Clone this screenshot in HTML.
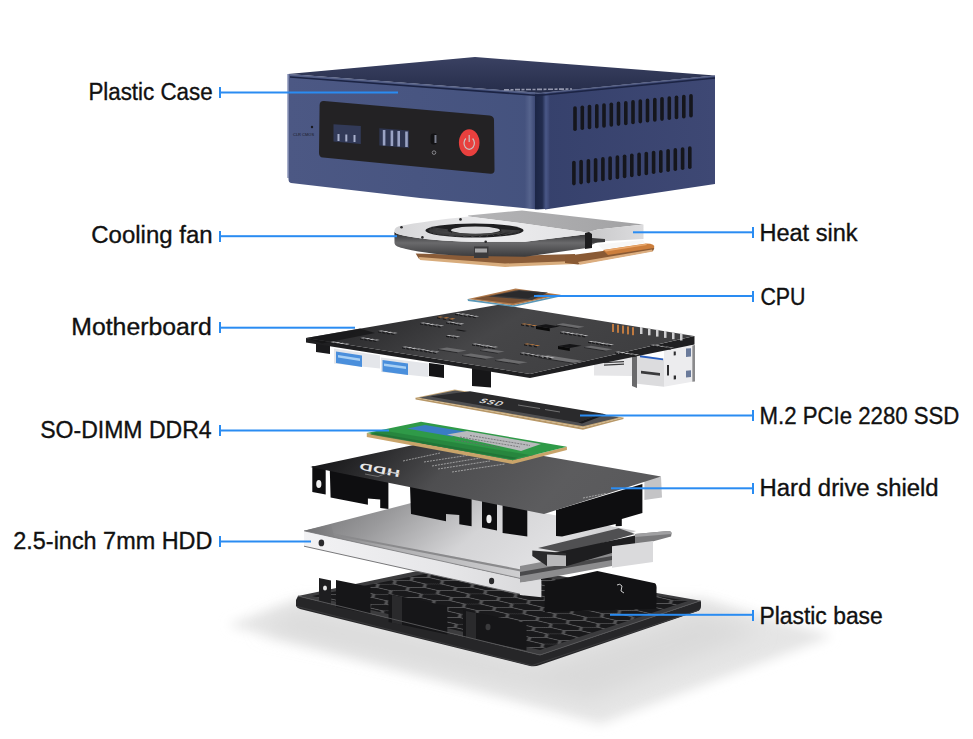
<!DOCTYPE html>
<html><head><meta charset="utf-8">
<style>
html,body{margin:0;padding:0;background:#fff;width:973px;height:739px;overflow:hidden}
svg{display:block}
text{font-family:"Liberation Sans",sans-serif;font-size:23.5px;fill:#111;stroke:#111;stroke-width:0.35px}
</style></head><body>
<svg width="973" height="739" viewBox="0 0 973 739">
<rect width="973" height="739" fill="#fff"/>
<defs>
<filter id="blur20" x="-50%" y="-50%" width="200%" height="200%"><feGaussianBlur stdDeviation="18"/></filter>
<filter id="blur1"><feGaussianBlur stdDeviation="0.6"/></filter>
<linearGradient id="caseTop" x1="0" y1="0" x2="0" y2="1"><stop offset="0" stop-color="#3a4162"/><stop offset="1" stop-color="#262d4a"/></linearGradient>
<linearGradient id="caseFront" x1="0" y1="0" x2="1" y2="0"><stop offset="0" stop-color="#4c5884"/><stop offset="1" stop-color="#44527e"/></linearGradient>
<linearGradient id="caseSide" x1="0" y1="0" x2="1" y2="0"><stop offset="0" stop-color="#36416c"/><stop offset="1" stop-color="#3e4874"/></linearGradient>
<linearGradient id="caseCorner" x1="0" y1="0" x2="1" y2="0"><stop offset="0" stop-color="#46537f"/><stop offset="0.5" stop-color="#56648e"/><stop offset="1" stop-color="#3c4874"/></linearGradient>
<linearGradient id="caseCorner2" x1="0" y1="0" x2="1" y2="0"><stop offset="0" stop-color="#1c2646"/><stop offset="0.5" stop-color="#222c4e"/><stop offset="0.75" stop-color="#4a5888"/><stop offset="1" stop-color="#3b4672"/></linearGradient>
<linearGradient id="fanSide" x1="0" y1="0" x2="0" y2="1"><stop offset="0" stop-color="#2a2a2c"/><stop offset="0.45" stop-color="#6a6a6c"/><stop offset="1" stop-color="#3a3a3c"/></linearGradient>
<linearGradient id="fanTop" x1="0" y1="0" x2="1" y2="0"><stop offset="0" stop-color="#d6d6d8"/><stop offset="0.5" stop-color="#ececee"/><stop offset="1" stop-color="#e2e2e4"/></linearGradient>
<linearGradient id="hsTop" x1="0" y1="0" x2="1" y2="0"><stop offset="0" stop-color="#b4b4b6"/><stop offset="1" stop-color="#a2a2a4"/></linearGradient>
<linearGradient id="hsFront" x1="0" y1="0" x2="1" y2="0"><stop offset="0" stop-color="#c8c8ca"/><stop offset="1" stop-color="#dcdcde"/></linearGradient>
<linearGradient id="mbTop" x1="0" y1="0" x2="1" y2="0.3"><stop offset="0" stop-color="#202022"/><stop offset="0.3" stop-color="#333335"/><stop offset="0.55" stop-color="#464648"/><stop offset="1" stop-color="#3e3e40"/></linearGradient>
<linearGradient id="shTop" x1="0" y1="0" x2="1" y2="0.2"><stop offset="0" stop-color="#0c0c0e"/><stop offset="0.22" stop-color="#2a2a2c"/><stop offset="0.45" stop-color="#4e4e50"/><stop offset="0.8" stop-color="#5c5c5e"/><stop offset="1" stop-color="#5a5a5c"/></linearGradient>
<linearGradient id="hddTop" x1="0" y1="0" x2="1" y2="0.3"><stop offset="0" stop-color="#6a6a6c"/><stop offset="0.3" stop-color="#9a9a9c"/><stop offset="0.6" stop-color="#d4d4d6"/><stop offset="0.85" stop-color="#e0e0e2"/><stop offset="1" stop-color="#c8c8ca"/></linearGradient>
<linearGradient id="hddFront" x1="0" y1="0" x2="1" y2="0"><stop offset="0" stop-color="#f2f2f4"/><stop offset="0.6" stop-color="#e6e6e8"/><stop offset="1" stop-color="#d8d8da"/></linearGradient>
<filter id="blur10" x="-30%" y="-30%" width="160%" height="160%"><feGaussianBlur stdDeviation="10"/></filter>
<pattern id="hex" patternUnits="userSpaceOnUse" width="19.5" height="11.3" patternTransform="matrix(2.22,0.51,1.52,-0.30,318,596)"><rect width="19.5" height="11.3" fill="#555557"/><g fill="#19191b"><polygon points="0.65,5.65 3.57,0.79 9.43,0.79 12.35,5.65 9.43,10.51 3.57,10.51"/><polygon points="10.40,0.00 13.32,-4.86 19.18,-4.86 22.10,0.00 19.18,4.86 13.32,4.86"/><polygon points="10.40,11.30 13.32,6.44 19.18,6.44 22.10,11.30 19.18,16.16 13.32,16.16"/><polygon points="-9.10,0.00 -6.18,-4.86 -0.32,-4.86 2.60,0.00 -0.32,4.86 -6.18,4.86"/><polygon points="-9.10,11.30 -6.18,6.44 -0.32,6.44 2.60,11.30 -0.32,16.16 -6.18,16.16"/></g></pattern>
<filter id="blur6" x="-30%" y="-30%" width="160%" height="160%"><feGaussianBlur stdDeviation="6"/></filter>
<linearGradient id="hddRim" x1="0" y1="0" x2="1" y2="0"><stop offset="0" stop-color="#707072"/><stop offset="0.4" stop-color="#b0b0b2"/><stop offset="1" stop-color="#d0d0d2"/></linearGradient>
</defs>
<g id="shadow">
<polygon points="228,625 300,598 702,598 832,636 600,724" fill="#e5e5e5" filter="url(#blur6)"/>
<polygon points="300,612 535,668 700,612 760,632 590,700 260,628" fill="#dadada" filter="url(#blur10)"/>
</g>
<g id="base">
<path d="M298,596 L296,600 L296,606 Q297,608 300,609 L530,666 Q535,667 540,665 L698,611 Q701,609.5 701,606 L701,602 L700.5,600.7 L540,655 Z" fill="#262628"/>
<path d="M298,596 L470,560 L700.5,600.7 L540,655 Z" fill="#3c3c3e"/>
<path d="M312,596 L470,565 L688,601 L540,650 Z" fill="url(#hex)"/>
<path d="M319,578 L331,580.5 L331,604 L319,601.5 Z" fill="#1e1e20"/>
<ellipse cx="325" cy="588" rx="2" ry="2.6" fill="#e8e8e8"/>
<path d="M336,580 L370.5,587 L370.5,614 L336,607 Z" fill="#161618"/>
<path d="M388.5,594 L447.3,606 L447.3,634.6 L388.5,622 Z" fill="#161618"/>
<path d="M392,595 L402,597 L402,625 L392,623 Z" fill="#2a2a2c"/>
<path d="M463,610 L526.5,623 L526.5,650.5 L463,637 Z" fill="#161618"/>
<path d="M466,611 L476,613 L476,640 L466,638 Z" fill="#2a2a2c"/>
<ellipse cx="488" cy="627" rx="2.5" ry="3.2" fill="#3a3a3c"/>
<path d="M544.7,582.5 L597.3,571 L655,583.3 Q657,585 656.5,590 L656.5,608.8 L544.7,612 Z" fill="#121214"/>
<path d="M617,585 q3,-2 5,1 l-1,5 l3,2" fill="none" stroke="#cfcfcf" stroke-width="1"/>
<path d="M298,596 L540,655 L700.5,600.7" fill="none" stroke="#555557" stroke-width="1"/>
<path d="M297,606.5 L532,665.5 L699,610" fill="none" stroke="#3a3a3c" stroke-width="1"/>
</g>
<g id="hdd">
<path d="M304,530.8 L526.2,579.7 L541,577 L541,594 L523.7,595 L304,546.2 Z" fill="url(#hddFront)"/>
<path d="M304,546.2 L523.7,595" stroke="#6a6a6c" stroke-width="0.9"/>
<path d="M304,530.8 L446,494 L636,531 L526.2,579.7 Z" fill="url(#hddTop)"/>
<path d="M304,530.8 L331,524.4 L333.5,533.4 L521,569.4 L526.2,579.7 Z" fill="url(#hddRim)"/>
<path d="M333.5,533.4 L521,569.4 L523,572 L334,535.5 Z" fill="#8a8a8c"/>
<path d="M304,530.8 L526.2,579.7" stroke="#7a7a7c" stroke-width="0.8"/>
<ellipse cx="321.4" cy="542.9" rx="2.8" ry="3.4" fill="#2a2a2c"/>
<ellipse cx="491.6" cy="581" rx="2.6" ry="3.2" fill="#2a2a2c"/>
<path d="M520,566 L612,549 L612,566 L520,583 Z" fill="#8c8c8e"/>
<path d="M520,572 L612,556 L612,560 L520,576 Z" fill="#4a4a4c"/>
<path d="M538,548 L618.7,528.2 L635,534 L566,553 Z" fill="#505052"/>
<path d="M547,554.5 L635,535.6 L635,546.3 L567,566 L547,566 Z" fill="#1e1e20"/>
<path d="M532.3,550.4 L566,553 L566,566 L547,566 L532.3,556 Z" fill="#2a2a2c"/>
<path d="M547,554.5 L566,555.5 L566,566 L547,566 Z" fill="#b8b8ba"/>
<path d="M635,534 L668,531 Q672,531 671.5,534 L671,536.5 L635,546.3 Z" fill="#7a7a7c"/>
<path d="M635,534 L668,531 Q672,531 671.5,534 L635,537 Z" fill="#a0a0a2"/>
<path d="M612,546.3 L653,541 L653,562 L612,567.7 Z" fill="#dadadc"/>
<path d="M520,582.5 L541.4,580 L541.4,597.3 L520,595 Z" fill="#dcdcde"/>
</g>
<g id="shield">
<path d="M312.3,466 L325.7,469 L325.7,494.5 L312.3,492 Z" fill="#0e0e10"/>
<ellipse cx="318.8" cy="484" rx="2.6" ry="4" fill="#f0f0f0"/>
<path d="M329.8,470 L388.4,482 L388.4,508.9 L380.2,508 L380.2,499.6 L367.9,498.6 L367.9,504.7 L330.6,497.6 Z" fill="#0e0e10"/>
<path d="M410,486 L471.6,498 L471.6,526.3 L459.3,524.2 L459.3,515 L446,514 L446,521.2 L411,514 Z" fill="#0e0e10"/>
<path d="M482,500 L497,503 L497,530.4 L482,527.5 Z" fill="#0e0e10"/>
<ellipse cx="489" cy="519" rx="2.6" ry="4.2" fill="#f0f0f0"/>
<path d="M502.6,504 L527.3,509 L527.3,536.6 L502.6,533 Z" fill="#0e0e10"/>
<path d="M556,510 L642.4,484 L642.4,513 L621.8,519 L621.8,526 L615.7,526.3 L615.7,524 L562,536.6 L556,536 Z" fill="#0e0e10"/>
<path d="M644.4,479 L661,476.5 L662,497.6 L644.4,500 Z" fill="#c4c4c6"/>
<path d="M310.3,467 L444,438.5 L661,476.5 L544,514 Z" fill="url(#shTop)"/>
<text x="0" y="0" text-anchor="middle" transform="translate(380,466.5) rotate(191) scale(1.15,0.62)" style="font-size:16px;font-weight:bold;fill:#e8e8e8;stroke:none;letter-spacing:0.5px">HDD</text>
<path d="M365,474 L378,476.5 L390,472 L400,474" fill="none" stroke="#9a9a9a" stroke-width="0.6"/>
<g stroke="#c8c8c8" stroke-width="0.9" opacity="0.75" stroke-dasharray="2,1">
<path d="M403,461 L440,453 M424,462 L470,455 M432,466 L480,458 M438,469 L490,461 M452,472 L505,464"/>
<path d="M583,498 L606,493.5"/>
</g>
</g>
<g id="ram">
<polygon points="366.8,433.1 366.8,437 512.6,464 566.9,450 566.9,446.7 512.6,460.2" fill="#c9a46a"/>
<polygon points="366.8,433.1 421,421.8 566.9,446.7 512.6,460.2" fill="#2f9a48"/>
<polygon points="370,434 512.6,459 530,455 380,430" fill="#237a38" opacity="0.6"/>
<polygon points="407,428.5 425,425 468,432 452,436.5" fill="#3a7cc4"/>
<polygon points="447,434.5 467,431 541,444 521,451" fill="#b9babd"/>
<g stroke="#6a6a6c" stroke-width="0.8" stroke-dasharray="2,1"><path d="M460,437 L520,447 M470,435.5 L530,445.5 M455,440 L500,447.5"/></g>
<polygon points="370,434.5 512.6,459.5 518,458 376,433" fill="#1f6e34" opacity="0.7"/>
</g>
<g id="ssd">
<polygon points="415.4,397.7 415.6,399.5 583,429.8 623.5,419 623.5,417.4 583,427.8" fill="#b89868"/>
<polygon points="415.4,397.7 454.7,389.6 623.5,417.4 583,427.8" fill="#c8aa7a"/>
<polygon points="419,397.7 455,390.6 619,417.4 583,426.3" fill="#505052"/>
<polygon points="430,396.5 470,391.3 602,413.5 578,422.5" fill="#2a2a2c"/>
<polygon points="578,422.5 602,413.5 606,414.5 582,423.5" fill="#1a1a1c"/>
<text x="0" y="0" transform="translate(478,402.5) rotate(9) skewX(-40) scale(1,0.7)" style="font-size:10px;font-weight:bold;fill:#d8d8d8;stroke:none;letter-spacing:1px">SSD</text>
<g stroke="#9a9a9a" stroke-width="0.8" opacity="0.8"><path d="M518,405 L540,408.5 M545,409.5 L560,412"/></g>
</g>
<g id="mb">
<path d="M316,343 L330,345 L330,354 L316,352 Z" fill="#1a1a1c"/>
<path d="M472,368 L491,370 L491,387.5 L472,386 Z" fill="#161618"/>
<path d="M334,348.5 L380,355.5 L380,368.5 L334,363.5 Z" fill="#e4e6ea"/>
<path d="M336,351.5 L362,355.5 L362,367 L336,363 Z" fill="#4a8fdc"/>
<path d="M338,355 L360,358.5 L360,361 L338,357.5 Z" fill="#a8d0f4"/>
<path d="M381,357.5 L428.5,363.5 L428.5,377 L381,372 Z" fill="#e4e6ea"/>
<path d="M382.5,360 L408,363.5 L408,375 L382.5,371.5 Z" fill="#4a8fdc"/>
<path d="M384,363.5 L406,366.5 L406,369 L384,366 Z" fill="#a8d0f4"/>
<path d="M429,363 L444,365 L444,378 L429,376 Z" fill="#141416"/>
<path d="M594,358 L632,356 L632,376 L594,375.5 Z" fill="#e6e6e8"/>
<path d="M604,362 L624,361 L624,362.3 L604,363.3 Z M604,364.5 L624,363.5 L624,364.8 L604,365.8 Z" fill="#3a3a3c"/>
<path d="M632,356 L637,354.7 L637,388 L632,386 Z" fill="#6a6a6c"/>
<path d="M637,354.7 L664,358.4 L664,386.8 L637,383.7 Z" fill="#dcdcde"/>
<path d="M640,355.3 L663,358.6 L663,360.3 L640,357.3 Z" fill="#2a5fc0"/>
<path d="M641,370.8 L660,373 L660,375.8 L641,373.6 Z" fill="#3a3a3c"/>
<path d="M664,347.3 L692.3,345.5 L692.3,381.8 L664,386.8 Z" fill="#ececee"/>
<path d="M673.7,351.6 L675.8,351.5 L675.8,355.3 L673.7,355.4 Z M673.7,375.6 L676,375.4 L676,379.2 L673.7,379.4 Z M667,365 L669,365 L669,375.5 L667,375.6 Z" fill="#2e2e30"/>
<path d="M686,348.6 L691,348.3 L691,356.6 L686,357 Z M686,370.8 L691,370.3 L691,377 L686,377.5 Z" fill="#6a7a9a"/>
<path d="M692.3,345.5 L695,345 L695,381.5 L692.3,381.8 Z" fill="#8a8a8c"/>
<path d="M306,338 L306,342.5 L530,378 L694.5,344.5 L694.5,336 L530,374 Z" fill="#1f1f21"/>
<path d="M306,338 L500,304.5 L694,336 L530,374 Z" fill="url(#mbTop)"/>
<path d="M306,338 L360,328.5 L375,333 L322,343.5 Z" fill="#121214" opacity="0.7"/>
<polygon points="438.0,349.0 457.7,352.2 457.7,353.2 438.0,350.0" fill="#2a2a2c"/><polygon points="438.0,349.0 457.7,352.2 466.6,350.6 446.9,347.5" fill="#6c6c6e"/>
<polygon points="462.0,355.0 485.7,358.8 485.7,359.8 462.0,356.0" fill="#2a2a2c"/><polygon points="462.0,355.0 485.7,358.8 494.6,357.2 470.9,353.5" fill="#6c6c6e"/>
<polygon points="495.0,360.0 518.7,363.8 518.7,364.8 495.0,361.0" fill="#2a2a2c"/><polygon points="495.0,360.0 518.7,363.8 527.6,362.2 503.9,358.5" fill="#6c6c6e"/>
<polygon points="480.0,350.0 497.8,352.8 497.8,353.8 480.0,351.0" fill="#2a2a2c"/><polygon points="480.0,350.0 497.8,352.8 504.7,351.6 486.9,348.8" fill="#6c6c6e"/>
<polygon points="538.0,357.0 573.5,362.7 573.5,363.7 538.0,358.0" fill="#2a2a2c"/><polygon points="538.0,357.0 573.5,362.7 583.4,361.0 547.9,355.3" fill="#747476"/>
<polygon points="584.0,347.0 605.7,350.5 605.7,351.5 584.0,348.0" fill="#2a2a2c"/><polygon points="584.0,347.0 605.7,350.5 612.6,349.3 590.9,345.8" fill="#6c6c6e"/>
<polygon points="556.0,324.5 577.7,328.0 577.7,329.0 556.0,325.5" fill="#2a2a2c"/><polygon points="556.0,324.5 577.7,328.0 584.6,326.8 562.9,323.3" fill="#6c6c6e"/>
<polygon points="558.0,346.0 569.8,347.9 569.8,350.9 558.0,349.0" fill="#0a0a0a"/><polygon points="558.0,346.0 569.8,347.9 581.7,345.8 569.8,343.9" fill="#141416"/>
<polygon points="536.0,326.0 549.8,328.2 549.8,331.2 536.0,329.0" fill="#0a0a0a"/><polygon points="536.0,326.0 549.8,328.2 559.7,326.5 545.9,324.3" fill="#141416"/>
<polygon points="455.0,330.0 463.9,331.4 466.8,330.9 458.0,329.5" fill="#141416"/>
<polygon points="437.0,317.0 440.0,317.5 440.0,319.0 437.0,318.5" fill="#1a1a1c"/><polygon points="437.0,317.0 440.0,317.5 443.4,316.9 440.4,316.4" fill="#d08440"/><polygon points="442.9,317.9 445.9,318.4 445.9,319.9 442.9,319.4" fill="#1a1a1c"/><polygon points="442.9,317.9 445.9,318.4 449.3,317.8 446.4,317.3" fill="#d08440"/><polygon points="448.8,318.9 451.8,319.4 451.8,320.9 448.8,320.4" fill="#1a1a1c"/><polygon points="448.8,318.9 451.8,319.4 455.3,318.8 452.3,318.3" fill="#d08440"/>
<polygon points="521.0,324.0 524.0,324.5 524.0,326.0 521.0,325.5" fill="#1a1a1c"/><polygon points="521.0,324.0 524.0,324.5 527.4,323.9 524.4,323.4" fill="#d08440"/><polygon points="525.9,324.8 528.9,325.3 528.9,326.8 525.9,326.3" fill="#1a1a1c"/><polygon points="525.9,324.8 528.9,325.3 532.3,324.7 529.4,324.2" fill="#d08440"/><polygon points="530.9,325.6 533.8,326.1 533.8,327.6 530.9,327.1" fill="#1a1a1c"/><polygon points="530.9,325.6 533.8,326.1 537.3,325.5 534.3,325.0" fill="#d08440"/>
<polygon points="524.0,344.0 527.0,344.5 527.0,346.0 524.0,345.5" fill="#1a1a1c"/><polygon points="524.0,344.0 527.0,344.5 530.4,343.9 527.4,343.4" fill="#d08440"/><polygon points="528.9,344.8 531.9,345.3 531.9,346.8 528.9,346.3" fill="#1a1a1c"/><polygon points="528.9,344.8 531.9,345.3 535.3,344.7 532.4,344.2" fill="#d08440"/><polygon points="533.9,345.6 536.8,346.1 536.8,347.6 533.9,347.1" fill="#1a1a1c"/><polygon points="533.9,345.6 536.8,346.1 540.3,345.5 537.3,345.0" fill="#d08440"/>
<polygon points="455.0,313.5 458.0,314.0 458.0,315.5 455.0,315.0" fill="#1a1a1c"/><polygon points="455.0,313.5 458.0,314.0 461.4,313.4 458.4,312.9" fill="#c4c4c6"/><polygon points="459.4,314.2 462.4,314.7 462.4,316.2 459.4,315.7" fill="#1a1a1c"/><polygon points="459.4,314.2 462.4,314.7 465.9,314.1 462.9,313.6" fill="#c4c4c6"/><polygon points="463.9,314.9 466.8,315.4 466.8,316.9 463.9,316.4" fill="#1a1a1c"/><polygon points="463.9,314.9 466.8,315.4 470.3,314.8 467.3,314.3" fill="#c4c4c6"/><polygon points="468.3,315.6 471.3,316.1 471.3,317.6 468.3,317.1" fill="#1a1a1c"/><polygon points="468.3,315.6 471.3,316.1 474.7,315.5 471.8,315.0" fill="#c4c4c6"/><polygon points="472.8,316.3 475.7,316.8 475.7,318.3 472.8,317.8" fill="#1a1a1c"/><polygon points="472.8,316.3 475.7,316.8 479.2,316.2 476.2,315.7" fill="#c4c4c6"/>
<polygon points="420.0,323.0 423.0,323.5 423.0,325.0 420.0,324.5" fill="#1a1a1c"/><polygon points="420.0,323.0 423.0,323.5 426.4,322.9 423.4,322.4" fill="#c4c4c6"/><polygon points="424.4,323.7 427.4,324.2 427.4,325.7 424.4,325.2" fill="#1a1a1c"/><polygon points="424.4,323.7 427.4,324.2 430.9,323.6 427.9,323.1" fill="#c4c4c6"/><polygon points="428.9,324.4 431.8,324.9 431.8,326.4 428.9,325.9" fill="#1a1a1c"/><polygon points="428.9,324.4 431.8,324.9 435.3,324.3 432.3,323.8" fill="#c4c4c6"/><polygon points="433.3,325.1 436.3,325.6 436.3,327.1 433.3,326.6" fill="#1a1a1c"/><polygon points="433.3,325.1 436.3,325.6 439.7,325.0 436.8,324.5" fill="#c4c4c6"/><polygon points="437.8,325.8 440.7,326.3 440.7,327.8 437.8,327.3" fill="#1a1a1c"/><polygon points="437.8,325.8 440.7,326.3 444.2,325.7 441.2,325.2" fill="#c4c4c6"/>
<polygon points="446.0,322.0 449.0,322.5 449.0,324.0 446.0,323.5" fill="#1a1a1c"/><polygon points="446.0,322.0 449.0,322.5 452.4,321.9 449.4,321.4" fill="#c4c4c6"/><polygon points="449.9,322.6 452.9,323.1 452.9,324.6 449.9,324.1" fill="#1a1a1c"/><polygon points="449.9,322.6 452.9,323.1 456.4,322.5 453.4,322.0" fill="#c4c4c6"/><polygon points="453.9,323.3 456.9,323.7 456.9,325.2 453.9,324.8" fill="#1a1a1c"/><polygon points="453.9,323.3 456.9,323.7 460.3,323.1 457.3,322.7" fill="#c4c4c6"/><polygon points="457.8,323.9 460.8,324.4 460.8,325.9 457.8,325.4" fill="#1a1a1c"/><polygon points="457.8,323.9 460.8,324.4 464.3,323.8 461.3,323.3" fill="#c4c4c6"/>
<polygon points="446.0,335.5 449.0,336.0 449.0,337.5 446.0,337.0" fill="#1a1a1c"/><polygon points="446.0,335.5 449.0,336.0 452.4,335.4 449.4,334.9" fill="#c4c4c6"/><polygon points="449.9,336.1 452.9,336.6 452.9,338.1 449.9,337.6" fill="#1a1a1c"/><polygon points="449.9,336.1 452.9,336.6 456.4,336.0 453.4,335.5" fill="#c4c4c6"/><polygon points="453.9,336.8 456.9,337.2 456.9,338.7 453.9,338.3" fill="#1a1a1c"/><polygon points="453.9,336.8 456.9,337.2 460.3,336.6 457.3,336.2" fill="#c4c4c6"/>
<polygon points="472.0,344.0 475.0,344.5 475.0,346.0 472.0,345.5" fill="#1a1a1c"/><polygon points="472.0,344.0 475.0,344.5 478.4,343.9 475.4,343.4" fill="#c4c4c6"/><polygon points="475.9,344.6 478.9,345.1 478.9,346.6 475.9,346.1" fill="#1a1a1c"/><polygon points="475.9,344.6 478.9,345.1 482.4,344.5 479.4,344.0" fill="#c4c4c6"/><polygon points="479.9,345.3 482.9,345.7 482.9,347.2 479.9,346.8" fill="#1a1a1c"/><polygon points="479.9,345.3 482.9,345.7 486.3,345.1 483.3,344.7" fill="#c4c4c6"/><polygon points="483.8,345.9 486.8,346.4 486.8,347.9 483.8,347.4" fill="#1a1a1c"/><polygon points="483.8,345.9 486.8,346.4 490.3,345.8 487.3,345.3" fill="#c4c4c6"/><polygon points="487.8,346.5 490.8,347.0 490.8,348.5 487.8,348.0" fill="#1a1a1c"/><polygon points="487.8,346.5 490.8,347.0 494.2,346.4 491.2,345.9" fill="#c4c4c6"/><polygon points="491.7,347.2 494.7,347.6 494.7,349.1 491.7,348.7" fill="#1a1a1c"/><polygon points="491.7,347.2 494.7,347.6 498.1,347.0 495.2,346.6" fill="#c4c4c6"/>
<polygon points="402.0,347.0 405.0,347.5 405.0,349.0 402.0,348.5" fill="#1a1a1c"/><polygon points="402.0,347.0 405.0,347.5 408.4,346.9 405.4,346.4" fill="#c4c4c6"/><polygon points="406.4,347.7 409.4,348.2 409.4,349.7 406.4,349.2" fill="#1a1a1c"/><polygon points="406.4,347.7 409.4,348.2 412.9,347.6 409.9,347.1" fill="#c4c4c6"/><polygon points="410.9,348.4 413.8,348.9 413.8,350.4 410.9,349.9" fill="#1a1a1c"/><polygon points="410.9,348.4 413.8,348.9 417.3,348.3 414.3,347.8" fill="#c4c4c6"/><polygon points="415.3,349.1 418.3,349.6 418.3,351.1 415.3,350.6" fill="#1a1a1c"/><polygon points="415.3,349.1 418.3,349.6 421.7,349.0 418.8,348.5" fill="#c4c4c6"/><polygon points="419.8,349.8 422.7,350.3 422.7,351.8 419.8,351.3" fill="#1a1a1c"/><polygon points="419.8,349.8 422.7,350.3 426.2,349.7 423.2,349.2" fill="#c4c4c6"/><polygon points="424.2,350.6 427.2,351.0 427.2,352.5 424.2,352.1" fill="#1a1a1c"/><polygon points="424.2,350.6 427.2,351.0 430.6,350.4 427.7,350.0" fill="#c4c4c6"/><polygon points="428.6,351.3 431.6,351.7 431.6,353.2 428.6,352.8" fill="#1a1a1c"/><polygon points="428.6,351.3 431.6,351.7 435.1,351.1 432.1,350.7" fill="#c4c4c6"/><polygon points="433.1,352.0 436.1,352.5 436.1,354.0 433.1,353.5" fill="#1a1a1c"/><polygon points="433.1,352.0 436.1,352.5 439.5,351.8 436.5,351.4" fill="#c4c4c6"/>
<polygon points="378.0,331.0 381.0,331.5 381.0,333.0 378.0,332.5" fill="#1a1a1c"/><polygon points="378.0,331.0 381.0,331.5 384.4,330.9 381.4,330.4" fill="#c4c4c6"/><polygon points="382.4,331.7 385.4,332.2 385.4,333.7 382.4,333.2" fill="#1a1a1c"/><polygon points="382.4,331.7 385.4,332.2 388.9,331.6 385.9,331.1" fill="#c4c4c6"/><polygon points="386.9,332.4 389.8,332.9 389.8,334.4 386.9,333.9" fill="#1a1a1c"/><polygon points="386.9,332.4 389.8,332.9 393.3,332.3 390.3,331.8" fill="#c4c4c6"/><polygon points="391.3,333.1 394.3,333.6 394.3,335.1 391.3,334.6" fill="#1a1a1c"/><polygon points="391.3,333.1 394.3,333.6 397.7,333.0 394.8,332.5" fill="#c4c4c6"/>
<polygon points="560.0,332.0 563.0,332.5 563.0,334.0 560.0,333.5" fill="#1a1a1c"/><polygon points="560.0,332.0 563.0,332.5 566.4,331.9 563.4,331.4" fill="#c4c4c6"/><polygon points="564.4,332.7 567.4,333.2 567.4,334.7 564.4,334.2" fill="#1a1a1c"/><polygon points="564.4,332.7 567.4,333.2 570.9,332.6 567.9,332.1" fill="#c4c4c6"/><polygon points="568.9,333.4 571.8,333.9 571.8,335.4 568.9,334.9" fill="#1a1a1c"/><polygon points="568.9,333.4 571.8,333.9 575.3,333.3 572.3,332.8" fill="#c4c4c6"/><polygon points="573.3,334.1 576.3,334.6 576.3,336.1 573.3,335.6" fill="#1a1a1c"/><polygon points="573.3,334.1 576.3,334.6 579.7,334.0 576.8,333.5" fill="#c4c4c6"/><polygon points="577.8,334.8 580.7,335.3 580.7,336.8 577.8,336.3" fill="#1a1a1c"/><polygon points="577.8,334.8 580.7,335.3 584.2,334.7 581.2,334.2" fill="#c4c4c6"/><polygon points="582.2,335.6 585.2,336.0 585.2,337.5 582.2,337.1" fill="#1a1a1c"/><polygon points="582.2,335.6 585.2,336.0 588.6,335.4 585.7,335.0" fill="#c4c4c6"/>
<polygon points="588.0,341.5 591.0,342.0 591.0,343.5 588.0,343.0" fill="#1a1a1c"/><polygon points="588.0,341.5 591.0,342.0 594.4,341.4 591.4,340.9" fill="#c4c4c6"/><polygon points="591.9,342.1 594.9,342.6 594.9,344.1 591.9,343.6" fill="#1a1a1c"/><polygon points="591.9,342.1 594.9,342.6 598.4,342.0 595.4,341.5" fill="#c4c4c6"/><polygon points="595.9,342.8 598.9,343.2 598.9,344.7 595.9,344.3" fill="#1a1a1c"/><polygon points="595.9,342.8 598.9,343.2 602.3,342.6 599.3,342.2" fill="#c4c4c6"/><polygon points="599.8,343.4 602.8,343.9 602.8,345.4 599.8,344.9" fill="#1a1a1c"/><polygon points="599.8,343.4 602.8,343.9 606.3,343.3 603.3,342.8" fill="#c4c4c6"/><polygon points="603.8,344.0 606.8,344.5 606.8,346.0 603.8,345.5" fill="#1a1a1c"/><polygon points="603.8,344.0 606.8,344.5 610.2,343.9 607.2,343.4" fill="#c4c4c6"/><polygon points="607.7,344.7 610.7,345.1 610.7,346.6 607.7,346.2" fill="#1a1a1c"/><polygon points="607.7,344.7 610.7,345.1 614.1,344.5 611.2,344.1" fill="#c4c4c6"/>
<polygon points="520.0,353.0 523.0,353.5 523.0,355.0 520.0,354.5" fill="#1a1a1c"/><polygon points="520.0,353.0 523.0,353.5 526.4,352.9 523.4,352.4" fill="#c4c4c6"/><polygon points="524.7,353.8 527.7,354.2 527.7,355.7 524.7,355.3" fill="#1a1a1c"/><polygon points="524.7,353.8 527.7,354.2 531.1,353.6 528.2,353.2" fill="#c4c4c6"/><polygon points="529.5,354.5 532.4,355.0 532.4,356.5 529.5,356.0" fill="#1a1a1c"/><polygon points="529.5,354.5 532.4,355.0 535.9,354.4 532.9,353.9" fill="#c4c4c6"/><polygon points="534.2,355.3 537.2,355.7 537.2,357.2 534.2,356.8" fill="#1a1a1c"/><polygon points="534.2,355.3 537.2,355.7 540.6,355.1 537.7,354.7" fill="#c4c4c6"/><polygon points="539.0,356.0 541.9,356.5 541.9,358.0 539.0,357.5" fill="#1a1a1c"/><polygon points="539.0,356.0 541.9,356.5 545.4,355.9 542.4,355.4" fill="#c4c4c6"/><polygon points="543.7,356.8 546.6,357.3 546.6,358.8 543.7,358.3" fill="#1a1a1c"/><polygon points="543.7,356.8 546.6,357.3 550.1,356.7 547.1,356.2" fill="#c4c4c6"/><polygon points="548.4,357.6 551.4,358.0 551.4,359.5 548.4,359.1" fill="#1a1a1c"/><polygon points="548.4,357.6 551.4,358.0 554.8,357.4 551.9,356.9" fill="#c4c4c6"/>
<polygon points="360.0,338.0 363.0,338.5 363.0,340.0 360.0,339.5" fill="#1a1a1c"/><polygon points="360.0,338.0 363.0,338.5 366.4,337.9 363.4,337.4" fill="#c4c4c6"/><polygon points="364.4,338.7 367.4,339.2 367.4,340.7 364.4,340.2" fill="#1a1a1c"/><polygon points="364.4,338.7 367.4,339.2 370.9,338.6 367.9,338.1" fill="#c4c4c6"/><polygon points="368.9,339.4 371.8,339.9 371.8,341.4 368.9,340.9" fill="#1a1a1c"/><polygon points="368.9,339.4 371.8,339.9 375.3,339.3 372.3,338.8" fill="#c4c4c6"/><polygon points="373.3,340.1 376.3,340.6 376.3,342.1 373.3,341.6" fill="#1a1a1c"/><polygon points="373.3,340.1 376.3,340.6 379.7,340.0 376.8,339.5" fill="#c4c4c6"/>
<polygon points="330.0,342.0 333.0,342.5 333.0,344.0 330.0,343.5" fill="#1a1a1c"/><polygon points="330.0,342.0 333.0,342.5 336.4,341.9 333.4,341.4" fill="#c4c4c6"/><polygon points="334.4,342.7 337.4,343.2 337.4,344.7 334.4,344.2" fill="#1a1a1c"/><polygon points="334.4,342.7 337.4,343.2 340.9,342.6 337.9,342.1" fill="#c4c4c6"/><polygon points="338.9,343.4 341.8,343.9 341.8,345.4 338.9,344.9" fill="#1a1a1c"/><polygon points="338.9,343.4 341.8,343.9 345.3,343.3 342.3,342.8" fill="#c4c4c6"/><polygon points="343.3,344.1 346.3,344.6 346.3,346.1 343.3,345.6" fill="#1a1a1c"/><polygon points="343.3,344.1 346.3,344.6 349.7,344.0 346.8,343.5" fill="#c4c4c6"/>
<polygon points="615.0,352.0 618.0,352.5 618.0,354.0 615.0,353.5" fill="#1a1a1c"/><polygon points="615.0,352.0 618.0,352.5 621.4,351.9 618.4,351.4" fill="#c4c4c6"/><polygon points="619.4,352.7 622.4,353.2 622.4,354.7 619.4,354.2" fill="#1a1a1c"/><polygon points="619.4,352.7 622.4,353.2 625.9,352.6 622.9,352.1" fill="#c4c4c6"/><polygon points="623.9,353.4 626.8,353.9 626.8,355.4 623.9,354.9" fill="#1a1a1c"/><polygon points="623.9,353.4 626.8,353.9 630.3,353.3 627.3,352.8" fill="#c4c4c6"/><polygon points="628.3,354.1 631.3,354.6 631.3,356.1 628.3,355.6" fill="#1a1a1c"/><polygon points="628.3,354.1 631.3,354.6 634.7,354.0 631.8,353.5" fill="#c4c4c6"/><polygon points="632.8,354.8 635.7,355.3 635.7,356.8 632.8,356.3" fill="#1a1a1c"/><polygon points="632.8,354.8 635.7,355.3 639.2,354.7 636.2,354.2" fill="#c4c4c6"/>
<polygon points="650.0,345.0 653.0,345.5 653.0,347.0 650.0,346.5" fill="#1a1a1c"/><polygon points="650.0,345.0 653.0,345.5 656.4,344.9 653.4,344.4" fill="#9a9a9c"/><polygon points="654.4,345.7 657.4,346.2 657.4,347.7 654.4,347.2" fill="#1a1a1c"/><polygon points="654.4,345.7 657.4,346.2 660.9,345.6 657.9,345.1" fill="#9a9a9c"/><polygon points="658.9,346.4 661.8,346.9 661.8,348.4 658.9,347.9" fill="#1a1a1c"/><polygon points="658.9,346.4 661.8,346.9 665.3,346.3 662.3,345.8" fill="#9a9a9c"/><polygon points="663.3,347.1 666.3,347.6 666.3,349.1 663.3,348.6" fill="#1a1a1c"/><polygon points="663.3,347.1 666.3,347.6 669.7,347.0 666.8,346.5" fill="#9a9a9c"/><polygon points="667.8,347.8 670.7,348.3 670.7,349.8 667.8,349.3" fill="#1a1a1c"/><polygon points="667.8,347.8 670.7,348.3 674.2,347.7 671.2,347.2" fill="#9a9a9c"/>
<rect x="612" y="324.0" width="2" height="8" fill="#c07a40"/>
<rect x="617" y="324.8" width="2" height="8" fill="#c07a40"/>
<rect x="622" y="325.6" width="2" height="8" fill="#c07a40"/>
<rect x="627" y="326.4" width="2" height="8" fill="#c07a40"/>
<rect x="632" y="327.2" width="2" height="8" fill="#c07a40"/>
<rect x="640" y="327.0" width="2.5" height="7" fill="#cfcfd1"/>
<rect x="648" y="328.3" width="2.5" height="7" fill="#cfcfd1"/>
<rect x="656" y="329.6" width="2.5" height="7" fill="#cfcfd1"/>
<rect x="664" y="330.9" width="2.5" height="7" fill="#cfcfd1"/>
<rect x="672" y="332.2" width="2.5" height="7" fill="#cfcfd1"/>
<rect x="680" y="333.5" width="2.5" height="7" fill="#cfcfd1"/>
</g>
<g id="cpu">
<polygon points="467.5,299 468,301 513,307 561.5,296.2 560.5,294.8 513,305.3" fill="#5a98b8"/>
<polygon points="468,299 515.5,288.6 560.5,294.8 513,305.3" fill="#b07a4c"/>
<polygon points="474,298.8 515,290.2 554,295 513,303.6" fill="#7a5234"/>
<polygon points="488,296.5 519,290 548,292.5 532,300" fill="#3a3a3c"/>
<polygon points="494,295.5 519,291 540,293 528,298.5" fill="#2a2a2c"/>
</g>
<g id="fan">
<path d="M415.7,253.6 L505,256 L575,254 L575,262.5 L505,265.5 L418.7,258.5 Z" fill="#8a5c38"/>
<path d="M418.7,257 L505,263.5 L575,261 L575,264 L505,267 L420,260 Z" fill="#d8ac7c"/>
<path d="M565,256 L648,245 Q657,245.5 653,251 L578,264.5 L565,263 Z" fill="#8a5a34"/>
<path d="M578,262 L652,249.5 L653,251.5 L580,264.8 Z" fill="#dcae80"/>
<path d="M598,244.5 L643,240 L645,243 L603,249.5 Z" fill="#f7f7f7"/>
<path d="M603,250 L646,243.5 Q656,243.5 654,248 L608,255 Z" fill="#cc7e3c"/>
<path d="M604,250 L646,243.8 L647,245 L606,251.5 Z" fill="#eaa86c"/>
<path d="M394.4,231.5 C395,233.5 399,234.5 406,236 C420,239 445,241.2 471.3,241.7 L525,241.7 L584.7,234.5 L597.7,232 L597.7,242 L584.7,248.2 L525,256.8 L471.3,256 C445,255.5 420,252.5 406,249 C398,247 395,246 394.5,243 Z" fill="url(#fanSide)"/>
<path d="M468,215.5 L522,210.5 L643.5,224.5 L597.7,229.5 L587,232.5 L520,223 L468.5,216.5 Z" fill="url(#hsTop)"/>
<path d="M587,232.5 L597.7,229.5 L643.5,224.5 L643.5,239 L597.7,241.5 L587,243 Z" fill="url(#hsFront)"/>
<path d="M394.4,231.5 C394.5,228 397,226.5 401,225.8 C415,223 440,219.5 468.5,216.5 L520,223 L587,232.5 L584.7,234.5 L525,241.7 L471.3,241.7 C445,241.2 420,239 406,236 C399,234.5 395,233.5 394.4,231.5 Z" fill="url(#fanTop)"/>
<ellipse cx="474.5" cy="230.5" rx="49" ry="7" fill="#1e1e20"/>
<path d="M501.5,230.5 L519.1,232.1 M501.1,231.2 L516.4,233.1 M499.9,231.9 L512.5,234.1 M497.9,232.6 L507.4,235.0 M495.2,233.2 L501.3,235.7 M491.9,233.7 L494.4,236.3 M488.0,234.1 L486.9,236.7 M483.7,234.4 L479.0,236.9 M479.2,234.6 L471.0,236.9 M474.5,234.7 L463.1,236.7 M469.8,234.6 L455.6,236.3 M465.3,234.4 L448.6,235.8 M461.0,234.1 L442.4,235.1 M457.1,233.7 L437.1,234.2 M453.8,233.2 L433.0,233.3 M451.1,232.6 L430.2,232.2 M449.1,231.9 L428.7,231.1 M447.9,231.2 L428.6,230.0 M447.5,230.5 L429.9,228.9 M447.9,229.8 L432.6,227.9 M501.1,229.8 L520.4,231.0" stroke="#5a5a5c" stroke-width="0.7" opacity="0.8"/>
<ellipse cx="475.5" cy="230.2" rx="24.5" ry="3.6" fill="#d8d8da"/>
<path d="M452,232 Q475,236 500,232 L500,233.5 Q475,238 452,233.5Z" fill="#444"/>
<g fill="#2a2a2c"><circle cx="401.5" cy="227.3" r="1.3"/><circle cx="422.4" cy="237.4" r="1.3"/><circle cx="460.5" cy="219.4" r="1.3"/><circle cx="485.7" cy="241.7" r="1.3"/></g>
<rect x="474" y="246.5" width="14.5" height="11.5" fill="#3a3a3c"/>
<rect x="475" y="248.5" width="12" height="4" fill="#a6a6a8"/>
<path d="M585,233 L589,232 L592,234 L592,248 L585,249 Z" fill="#1c1c1e"/>
<path d="M592,238 L605,239 L605,242 L592,243 Z" fill="#3c3c3e"/>
</g>
<g id="case">
<polygon points="288,74 475,57 715,75.5 541,93" fill="url(#caseTop)"/>
<path d="M288.5,74 L541,93 L545,95 L545,209 L538,209.5 L420,198 L291,183 Q288.5,182.5 288.5,179 Z" fill="url(#caseFront)"/>
<path d="M541,93 L715,75.5 L715,184 L545,209.5 Z" fill="url(#caseSide)"/>
<path d="M525,91.7 L535,92.5 L535,208.8 L525,207.8 Z" fill="url(#caseCorner)"/>
<path d="M535,92.5 L549.5,92.6 L549.5,208.5 L535,209.3 Z" fill="url(#caseCorner2)"/>
<path d="M289,75 L538,93.5 L715,76" fill="none" stroke="#5a6488" stroke-width="1"/><path d="M290,77 L538,95.5 L715,78" fill="none" stroke="#1c2444" stroke-width="1.6"/>
<path d="M288,74 L288,178" stroke="#5a679a" stroke-width="1.5" opacity="0.7"/>
<path d="M504,89.8 L572,89" stroke="#b8bcd0" stroke-width="1.6" stroke-dasharray="5,1.5,3,1.5" opacity="0.75"/>
<g fill="#15161c"><rect x="573.2" y="106.2" width="3.6" height="24.8" rx="1.8"/><rect x="580.5" y="105.4" width="3.6" height="24.7" rx="1.8"/><rect x="587.7" y="104.7" width="3.6" height="24.6" rx="1.8"/><rect x="595.0" y="103.9" width="3.6" height="24.6" rx="1.8"/><rect x="602.2" y="103.2" width="3.6" height="24.5" rx="1.8"/><rect x="609.5" y="102.4" width="3.6" height="24.4" rx="1.8"/><rect x="616.7" y="101.6" width="3.6" height="24.3" rx="1.8"/><rect x="624.0" y="100.9" width="3.6" height="24.3" rx="1.8"/><rect x="631.2" y="100.1" width="3.6" height="24.2" rx="1.8"/><rect x="638.5" y="99.3" width="3.6" height="24.1" rx="1.8"/><rect x="645.7" y="98.6" width="3.6" height="24.0" rx="1.8"/><rect x="653.0" y="97.8" width="3.6" height="24.0" rx="1.8"/><rect x="660.2" y="97.0" width="3.6" height="23.9" rx="1.8"/><rect x="667.5" y="96.3" width="3.6" height="23.8" rx="1.8"/><rect x="674.7" y="95.5" width="3.6" height="23.7" rx="1.8"/><rect x="682.0" y="94.8" width="3.6" height="23.7" rx="1.8"/><rect x="689.2" y="94.0" width="3.6" height="23.6" rx="1.8"/><rect x="572.1" y="160.7" width="3.6" height="24.7" rx="1.8"/><rect x="579.3" y="159.8" width="3.6" height="24.6" rx="1.8"/><rect x="586.6" y="158.9" width="3.6" height="24.5" rx="1.8"/><rect x="593.8" y="158.0" width="3.6" height="24.3" rx="1.8"/><rect x="601.1" y="157.1" width="3.6" height="24.2" rx="1.8"/><rect x="608.3" y="156.2" width="3.6" height="24.1" rx="1.8"/><rect x="615.6" y="155.3" width="3.6" height="23.9" rx="1.8"/><rect x="622.8" y="154.4" width="3.6" height="23.8" rx="1.8"/><rect x="630.0" y="153.5" width="3.6" height="23.7" rx="1.8"/><rect x="637.3" y="152.6" width="3.6" height="23.6" rx="1.8"/><rect x="644.5" y="151.7" width="3.6" height="23.5" rx="1.8"/><rect x="651.8" y="150.8" width="3.6" height="23.3" rx="1.8"/><rect x="659.0" y="149.9" width="3.6" height="23.2" rx="1.8"/><rect x="666.3" y="149.0" width="3.6" height="23.1" rx="1.8"/><rect x="673.5" y="148.1" width="3.6" height="22.9" rx="1.8"/><rect x="680.8" y="147.2" width="3.6" height="22.8" rx="1.8"/><rect x="688.0" y="146.3" width="3.6" height="22.7" rx="1.8"/></g>
<path d="M324,101 L489.5,115.5 Q494,116 494,120 L494.5,170 Q494.5,174 490.5,173.7 L323,157.6 Q319,157.2 319,153 L319.6,105 Q319.8,100.7 324,101 Z" fill="#232224"/>
<polygon points="333.5,124.3 360.8,126 360.8,144 333.5,141.5" fill="#323a58"/>
<g fill="#a8b0cc"><rect x="337.5" y="134" width="2" height="7"/><rect x="345.3" y="134.5" width="2" height="7"/><rect x="353.5" y="135" width="2" height="7"/></g>
<polygon points="379.3,128.2 409,130.5 409,148 379.3,145.5" fill="#2e3550"/>
<g fill="#9aa3c4"><rect x="382.8" y="130" width="2.6" height="15.5"/><rect x="390.6" y="130.5" width="2.6" height="15.5"/><rect x="397.4" y="131" width="2.6" height="15.5"/><rect x="405.2" y="131.5" width="2.6" height="15.5"/></g>
<rect x="430.5" y="133.5" width="6.5" height="11" rx="3" fill="#121214"/>
<rect x="434.5" y="135" width="2" height="8" fill="#7c8090"/>
<circle cx="434" cy="152.6" r="1.8" fill="none" stroke="#9a9aa0" stroke-width="0.8"/>
<ellipse cx="469.2" cy="142.8" rx="10.3" ry="13.5" fill="#e8403e"/>
<path d="M465.8,138.5 A5.2,6.2 0 1,0 472.6,138.5" fill="none" stroke="#c9c3c4" stroke-width="1.2"/>
<line x1="469.2" y1="135" x2="469.2" y2="142" stroke="#c9c3c4" stroke-width="1.2"/>
<circle cx="312" cy="127" r="1.2" fill="#1a1a20"/>
<text x="293" y="135.5" style="font-size:4px;fill:#1a1a24;stroke:none">CLR CMOS</text>
</g><!-- LABELS -->
<g id="labels" fill="#2a8cf2">
<rect x="219" y="87" width="2" height="11"/><rect x="220" y="91.5" width="178" height="2"/>
<rect x="219" y="231" width="2" height="11"/><rect x="220" y="235.2" width="177" height="2"/>
<rect x="219" y="322" width="2" height="11"/><rect x="220" y="326.7" width="135" height="2"/>
<rect x="219" y="425" width="2" height="11"/><rect x="220" y="429.5" width="169" height="2"/>
<rect x="219" y="536" width="2" height="11"/><rect x="220" y="540.5" width="91" height="2"/>
<rect x="752" y="227" width="2" height="11"/><rect x="633" y="231.3" width="120" height="2"/>
<rect x="752" y="291" width="2" height="11"/><rect x="534" y="295" width="219" height="2"/>
<rect x="752" y="410" width="2" height="11"/><rect x="580" y="414.5" width="173" height="2"/>
<rect x="752" y="483" width="2" height="11"/><rect x="611" y="487.3" width="142" height="2"/>
<rect x="752" y="610" width="2" height="11"/><rect x="610" y="613.8" width="143" height="2"/>
</g>
<g id="text">
<text x="88.4" y="99.7" textLength="124.2" lengthAdjust="spacingAndGlyphs">Plastic Case</text>
<text x="91.3" y="243" textLength="121.3" lengthAdjust="spacingAndGlyphs">Cooling fan</text>
<text x="71.3" y="335" textLength="140.5" lengthAdjust="spacingAndGlyphs">Motherboard</text>
<text x="40.2" y="437.7" textLength="171.5" lengthAdjust="spacingAndGlyphs">SO-DIMM DDR4</text>
<text x="13.3" y="548.9" textLength="199.1" lengthAdjust="spacingAndGlyphs">2.5-inch 7mm HDD</text>
<text x="759.4" y="241" textLength="98.2" lengthAdjust="spacingAndGlyphs">Heat sink</text>
<text x="760.4" y="304.6" textLength="45.1" lengthAdjust="spacingAndGlyphs">CPU</text>
<text x="759.5" y="423.7" textLength="199.9" lengthAdjust="spacingAndGlyphs">M.2 PCIe 2280 SSD</text>
<text x="759.5" y="495.6" textLength="179.1" lengthAdjust="spacingAndGlyphs">Hard drive shield</text>
<text x="759.4" y="623.7" textLength="123.4" lengthAdjust="spacingAndGlyphs">Plastic base</text>
</g>
</svg>
</body></html>
